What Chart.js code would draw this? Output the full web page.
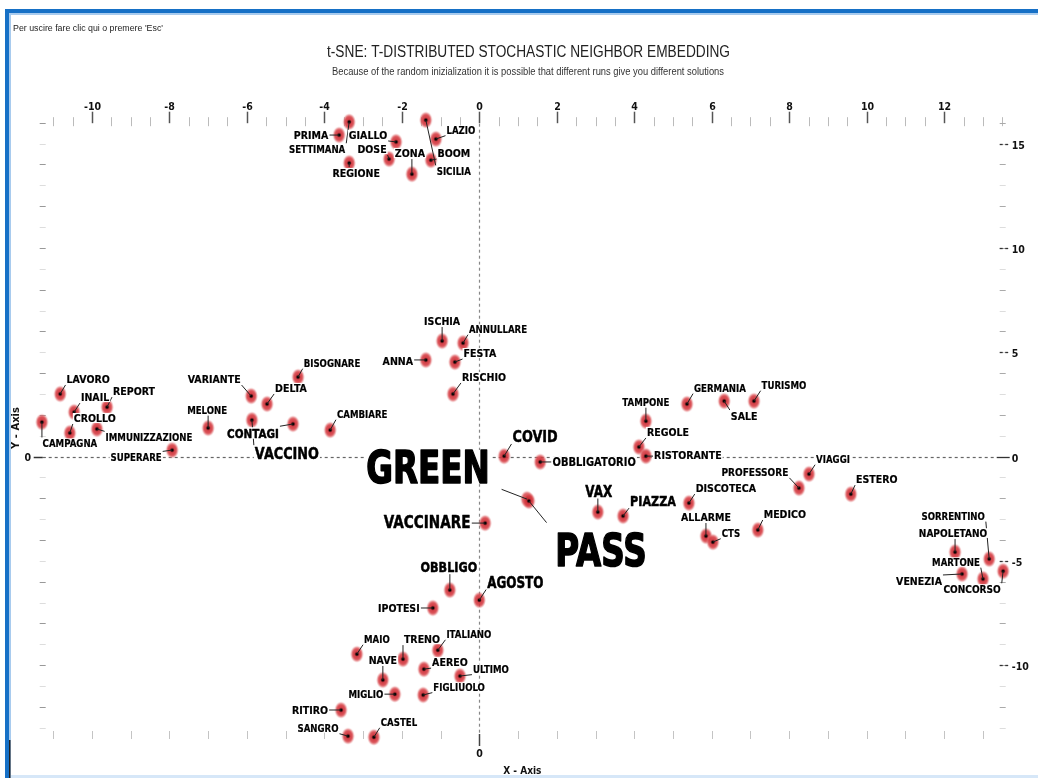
<!DOCTYPE html>
<html>
<head>
<meta charset="utf-8">
<script src="https://cdn.jsdelivr.net/npm/chart.js@4/dist/chart.umd.min.js"></script>
<style>
  html, body { margin: 0; padding: 0; background: #fff; }
  #wrap { position: relative; width: 1038px; height: 778px; }
  canvas { display: block; }
</style>
</head>
<body>
<div id="wrap"><canvas id="c" width="1038" height="778" style="width:1038px;height:778px"></canvas></div>
<script>
// ---------------- DATA ----------------
const words = ['PRIMA','GIALLO','SETTIMANA','DOSE','REGIONE','ZONA','LAZIO','BOOM','SICILIA',
  'ISCHIA','ANNULLARE','ANNA','FESTA','RISCHIO','CAMBIARE','COVID','OBBLIGATORIO','GREEN','PASS','VACCINARE','VAX','PIAZZA','OBBLIGO','AGOSTO',
  'TAMPONE','REGOLE','RISTORANTE','GERMANIA','TURISMO','SALE','VIAGGI','PROFESSORE','ESTERO','DISCOTECA','ALLARME','CTS','MEDICO',
  'SORRENTINO','NAPOLETANO','MARTONE','VENEZIA','CONCORSO',
  'LAVORO','INAIL','REPORT','CROLLO','CAMPAGNA','IMMUNIZZAZIONE','SUPERARE','MELONE','VARIANTE','DELTA','BISOGNARE','CONTAGI','VACCINO',
  'IPOTESI','MAIO','TRENO','ITALIANO','NAVE','AEREO','ULTIMO','MIGLIO','FIGLIUOLO','RITIRO','SANGRO','CASTEL'];

const xs = [-3.62,-2.15,-3.36,-2.33,-3.36,-1.74,-1.12,-1.25,-1.38,
  -0.96,-0.42,-1.38,-0.63,-0.68,-3.85,0.64,1.57,1.23,1.28,0.15,3.06,3.71,-0.76,0.0,
  4.30,4.12,4.30,5.36,7.09,6.32,8.51,8.25,9.59,5.41,5.85,6.03,7.19,
  13.16,12.28,13.00,12.46,13.52,
  -10.82,-10.46,-9.61,-10.57,-11.29,-9.87,-7.93,-7.00,-5.89,-5.48,-4.68,-4.81,-5.87,
  -1.20,-3.16,-1.97,-1.07,-2.49,-1.43,-0.50,-2.18,-1.45,-3.57,-3.39,-2.72];

const ys = [15.41,15.08,16.04,14.26,14.07,13.54,15.22,14.21,16.13,
  5.54,5.44,4.63,4.53,3.00,1.27,0.02,-0.26,-2.04,-2.13,-3.19,-2.66,-2.85,-6.40,-6.88,
  1.70,0.46,0.02,2.52,2.66,2.66,-0.84,-1.51,-1.80,-2.23,-3.81,-4.10,-3.52,
  -4.91,-4.58,-5.87,-5.63,-5.49,
  3.00,2.13,2.37,1.13,1.65,1.32,0.31,1.37,2.90,2.52,3.81,1.56,1.75,
  -7.26,-9.47,-9.71,-9.28,-10.71,-10.19,-10.52,-11.39,-11.43,-12.15,-13.40,-13.45];

const xTickLabels = [-10,-8,-6,-4,-2,0,2,4,6,8,10,12];
const yTickLabels = [-10,-5,0,5,10,15];

// ---------------- STYLE / LAYOUT (kept apart from the data) ----------------
const labelSize = [11,11,10,11,11,11,10,11,10,
  11,10,11,11,11,10,16,11.5,44,44,17,15,14,14,15,
  10,11,11,10,10,11,10,10.5,11,11,11,10,11,
  10,10.5,10,11,10.5,
  11,11,11,11,10,10,10,10,11,11,10,13,16,
  11,10,11,10,11,11,10,10,10,11,10,10];
const labelDX = [-28,-28,-32,-17,7,-2,25,23,28,
  0,35,-28,25,31,32,31,54,-99,72,-58,1,30,-1,36,
  0,29,42,33,30,20,24,-44,26,37,0,18,27,
  -36,-2,-27,-43,-31,
  28,21,27,25,28,52,-36,-1,-37,24,34,-40,35,
  -34,20,19,31,0,26,31,-29,36,-31,-30,25];
const labelDY = [0,-7,27,-10,10,-21,-9,-7,51,
  -20,-14,1,-9,-17,-16,-20,0,-32,49,-1,-21,-15,-23,-18,
  -19,-15,-1,-16,-16,15,-15,-16,-15,-15,-19,-9,-16,
  -43,-19,-17,7,18,
  -15,-15,-16,-15,21,8,7,-18,-17,-16,-14,9,33,
  0,-15,-20,-16,-20,-7,-7,0,-8,0,-8,-15];

const LFONT = '"DejaVu Sans", "Liberation Sans", Verdana, sans-serif';
const AFONT = '"Liberation Sans", Arial, sans-serif';

function squeeze(size) { return size >= 30 ? 0.74 : (size >= 13 ? 0.8 : 0.86); }

function drawText(ctx, s, x, y, size, sx, align, color, weight, family, stroke) {
  ctx.save();
  ctx.translate(x, y);
  ctx.scale(sx, 1);
  ctx.font = (weight || 'bold') + ' ' + size + 'px ' + (family || LFONT);
  ctx.textAlign = align || 'center';
  ctx.textBaseline = 'alphabetic';
  ctx.fillStyle = color || '#111';
  ctx.fillText(s, 0, 0);
  if (stroke) {
    ctx.strokeStyle = color || '#111';
    ctx.lineWidth = stroke;
    ctx.lineJoin = 'round';
    ctx.strokeText(s, 0, 0);
  }
  ctx.restore();
}
function fitText(ctx, s, cx, y, size, width, color, family, align) {
  ctx.save();
  ctx.font = size + 'px ' + family;
  const w = ctx.measureText(s).width;
  ctx.restore();
  drawText(ctx, s, cx, y, size, width / w, align || 'center', color, 'normal', family);
}

// point marker: soft red ellipse with black centre
function makeMarker() {
  const c = document.createElement('canvas');
  c.width = 15; c.height = 19;
  const g = c.getContext('2d');
  g.save();
  g.translate(7.5, 9.5);
  g.scale(1, 1.28);
  const grd = g.createRadialGradient(0, 0, 0, 0, 0, 6.6);
  grd.addColorStop(0, 'rgba(200,35,45,0.97)');
  grd.addColorStop(0.65, 'rgba(214,62,68,0.88)');
  grd.addColorStop(0.85, 'rgba(226,115,118,0.55)');
  grd.addColorStop(1, 'rgba(236,170,170,0)');
  g.fillStyle = grd;
  g.beginPath(); g.arc(0, 0, 6.6, 0, Math.PI * 2); g.fill();
  g.restore();
  g.fillStyle = '#000';
  g.beginPath(); g.arc(7.5, 9.5, 1.7, 0, Math.PI * 2); g.fill();
  return c;
}

const decor = {
  id: 'decor',
  beforeDraw(chart) {
    const ctx = chart.ctx;
    ctx.save();
    ctx.fillStyle = '#fff';
    ctx.fillRect(0, 0, chart.width, chart.height);
    // window frame
    ctx.fillStyle = '#1670c6';
    ctx.fillRect(5, 9, 1033, 4);
    ctx.fillRect(5, 9, 4, 769);
    ctx.fillStyle = '#a8cbee';
    ctx.fillRect(9, 13, 1029, 2);
    ctx.fillRect(9, 13, 2, 765);
    ctx.fillStyle = '#d6e7f8';
    ctx.fillRect(11, 775, 1027, 3);
    ctx.fillStyle = '#222';
    ctx.fillRect(9, 740, 1.5, 38);
    ctx.restore();
    fitText(ctx, "Per uscire fare clic qui o premere 'Esc'", 13, 31, 9, 150, '#222', AFONT, 'left');
    fitText(ctx, 't-SNE: T-DISTRIBUTED STOCHASTIC NEIGHBOR EMBEDDING', 528.5, 56.5, 16, 403, '#222', AFONT);
    fitText(ctx, 'Because of the random inizialization it is possible that different runs give you different solutions', 528, 74.5, 10, 392, '#333', AFONT);
  },
  beforeDatasetsDraw(chart) {
    const ctx = chart.ctx;
    const xs_ = chart.scales.x, ys_ = chart.scales.y;
    const a = chart.chartArea;
    const x0 = xs_.getPixelForValue(0), y0 = ys_.getPixelForValue(0);
    ctx.save();
    ctx.lineWidth = 1;
    // top row: minor every 0.5, labelled majors
    for (let k = Math.ceil(xs_.min * 2); k <= Math.floor(xs_.max * 2); k++) {
      const v = k / 2;
      const px = Math.round(xs_.getPixelForValue(v)) + 0.5;
      if (xTickLabels.includes(v)) {
        ctx.strokeStyle = '#555'; ctx.lineWidth = 1.5;
        ctx.beginPath(); ctx.moveTo(px, a.top - 10); ctx.lineTo(px, a.top + 1.5); ctx.stroke();
        drawText(ctx, String(v), px, a.top - 12, 11, 0.86, 'center', '#111');
      } else {
        ctx.strokeStyle = '#bbb'; ctx.lineWidth = 1;
        ctx.beginPath(); ctx.moveTo(px, a.top - 4.5); ctx.lineTo(px, a.top + 4.5); ctx.stroke();
      }
    }
    // bottom row: every unit
    for (let v = Math.ceil(xs_.min); v <= Math.floor(xs_.max); v++) {
      const px = Math.round(xs_.getPixelForValue(v)) + 0.5;
      if (v === 0) {
        ctx.strokeStyle = '#444'; ctx.lineWidth = 1.5;
        ctx.beginPath(); ctx.moveTo(px, a.bottom); ctx.lineTo(px, a.bottom + 12); ctx.stroke();
        drawText(ctx, '0', px, a.bottom + 23, 11, 0.86, 'center', '#111');
      } else {
        ctx.strokeStyle = '#c4c4c4'; ctx.lineWidth = 1;
        ctx.beginPath(); ctx.moveTo(px, a.bottom - 3); ctx.lineTo(px, a.bottom + 5); ctx.stroke();
      }
    }
    // left and right columns: every unit
    for (let v = Math.ceil(ys_.min); v <= Math.floor(ys_.max); v++) {
      const py = Math.round(ys_.getPixelForValue(v)) + 0.5;
      ctx.lineWidth = 1;
      ctx.strokeStyle = (v % 2 === 0) ? '#999' : '#ddd';
      ctx.beginPath(); ctx.moveTo(a.left - 3, py); ctx.lineTo(a.left + 3, py); ctx.stroke();
      ctx.strokeStyle = (v % 2 === 0) ? '#aaa' : '#ddd';
      ctx.beginPath(); ctx.moveTo(a.right - 3, py); ctx.lineTo(a.right + 3, py); ctx.stroke();
      if (yTickLabels.includes(v)) {
        ctx.strokeStyle = '#333'; ctx.lineWidth = 1.3;
        if (v === 0) {
          ctx.beginPath(); ctx.moveTo(a.right - 6, py); ctx.lineTo(a.right + 7, py); ctx.stroke();
        } else {
          ctx.beginPath(); ctx.moveTo(a.right - 3, py); ctx.lineTo(a.right, py); ctx.stroke();
          ctx.beginPath(); ctx.moveTo(a.right + 2.5, py); ctx.lineTo(a.right + 5.5, py); ctx.stroke();
        }
        drawText(ctx, String(v), a.right + 9, py + 4, 11, 0.86, 'left', '#111');
      }
    }
    ctx.strokeStyle = '#333'; ctx.lineWidth = 1.5;
    ctx.beginPath(); ctx.moveTo(a.left - 9, Math.round(y0) + 0.5); ctx.lineTo(a.left, Math.round(y0) + 0.5); ctx.stroke();
    drawText(ctx, '0', a.left - 15, y0 + 4, 11, 0.86, 'center', '#111');
    // axis titles
    drawText(ctx, 'X - Axis', x0 + 43, a.bottom + 40, 10.5, 0.86, 'center', '#111');
    ctx.save();
    ctx.translate(18.5, 428);
    ctx.rotate(-Math.PI / 2);
    drawText(ctx, 'Y - Axis', 0, 0, 10, 1, 'center', '#111');
    ctx.restore();
    // dashed zero lines
    ctx.strokeStyle = '#666'; ctx.lineWidth = 1.2;
    ctx.setLineDash([3, 3]);
    ctx.beginPath(); ctx.moveTo(a.left, Math.round(y0) + 0.5); ctx.lineTo(a.right - 6, Math.round(y0) + 0.5); ctx.stroke();
    ctx.strokeStyle = '#888';
    ctx.beginPath(); ctx.moveTo(Math.round(x0) + 0.5, a.top + 2); ctx.lineTo(Math.round(x0) + 0.5, a.bottom); ctx.stroke();
    ctx.setLineDash([]);
    ctx.restore();
  },
  afterDatasetsDraw(chart) {
    const ctx = chart.ctx;
    const xs_ = chart.scales.x, ys_ = chart.scales.y;
    const boxes = words.map((w, i) => {
      const px = xs_.getPixelForValue(xs[i]), py = ys_.getPixelForValue(ys[i]);
      const size = labelSize[i], sx = squeeze(size);
      ctx.font = 'bold ' + size + 'px ' + LFONT;
      const tw = ctx.measureText(w).width * sx;
      const capH = 0.73 * size;
      const lx = px + labelDX[i], ly = py + labelDY[i];
      return { w, px, py, size, sx, lx, ly, capH,
        x1: lx - tw / 2 - 1, x2: lx + tw / 2 + 1, y1: ly - capH / 2 - 2, y2: ly + capH / 2 + 2 };
    });
    ctx.save();
    // leader lines
    ctx.strokeStyle = '#222'; ctx.lineWidth = 1;
    boxes.forEach(b => {
      const qx = Math.max(b.x1, Math.min(b.px, b.x2));
      const qy = Math.max(b.y1, Math.min(b.py, b.y2));
      const d = Math.hypot(qx - b.px, qy - b.py);
      if (d > 3) {
        const f = b.size >= 30 ? 0.7 : 1;
        ctx.beginPath(); ctx.moveTo(b.px, b.py);
        ctx.lineTo(b.px + (qx - b.px) * f, b.py + (qy - b.py) * f); ctx.stroke();
      }
    });
    // labels with white backing
    boxes.forEach(b => {
      ctx.fillStyle = '#fff';
      ctx.fillRect(b.x1, b.y1 + 1, b.x2 - b.x1, b.y2 - b.y1 - 2);
      const stroke = b.size >= 30 ? 1.6 : (b.size >= 13 ? 0.5 : 0.2);
      drawText(ctx, b.w, b.lx, b.ly + b.capH / 2, b.size, b.sx, 'center', '#000', 'bold', LFONT, stroke);
    });
    ctx.restore();
  }
};

const marker = makeMarker();

new Chart(document.getElementById('c'), {
  type: 'scatter',
  data: {
    datasets: [{
      data: words.map((w, i) => ({ x: xs[i], y: ys[i] })),
      pointStyle: marker,
      pointRadius: 6,
      clip: false
    }]
  },
  options: {
    responsive: false,
    animation: false,
    devicePixelRatio: 1,
    events: [],
    layout: { padding: { left: 42.7, right: 35.3, top: 121.7, bottom: 44 } },
    plugins: { legend: { display: false }, tooltip: { enabled: false }, title: { display: false } },
    scales: {
      x: { type: 'linear', min: -11.27, max: 13.51, display: false },
      y: { type: 'linear', min: -13.3, max: 16.05, display: false }
    }
  },
  plugins: [decor]
});
</script>
</body>
</html>
